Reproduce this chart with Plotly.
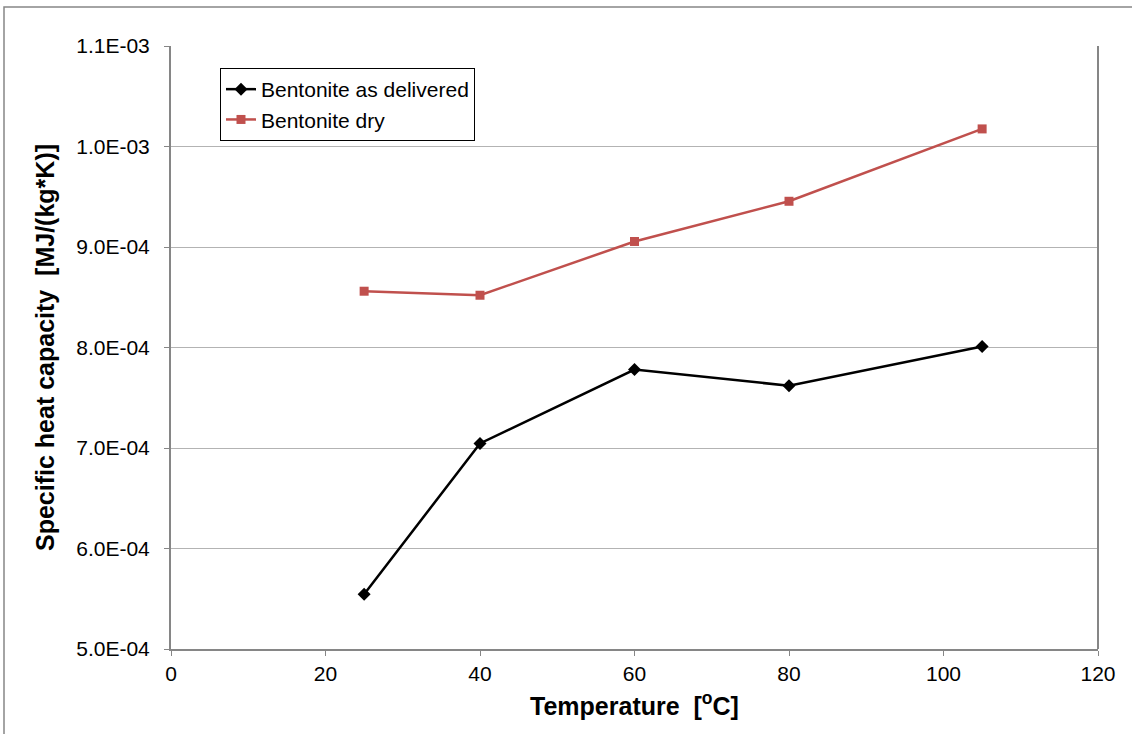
import plotly.graph_objects as go

temps = [25, 40, 60, 80, 105]
as_delivered = [5.545e-4, 7.045e-4, 7.78e-4, 7.62e-4, 8.01e-4]
dry = [8.56e-4, 8.52e-4, 9.055e-4, 9.455e-4, 1.0175e-3]

y_tickvals = [5.0e-4, 6.0e-4, 7.0e-4, 8.0e-4, 9.0e-4, 1.0e-3, 1.1e-3]
y_ticktext = ["5.0E-04", "6.0E-04", "7.0E-04", "8.0E-04", "9.0E-04", "1.0E-03", "1.1E-03"]
x_tickvals = [0, 20, 40, 60, 80, 100, 120]

W, H = 1132, 734
L, R, T, B = 171, 1098, 46, 649

fig = go.Figure()
fig.add_trace(go.Scatter(
    x=temps, y=as_delivered, name="Bentonite as delivered",
    mode="lines+markers",
    line=dict(color="black", width=2.5),
    marker=dict(symbol="diamond", size=10, color="black"),
))
fig.add_trace(go.Scatter(
    x=temps, y=dry, name="Bentonite dry",
    mode="lines+markers",
    line=dict(color="#c0504d", width=2.5),
    marker=dict(symbol="square", size=9, color="#c0504d"),
))

pw, ph = R - L, B - T
def px(xp):
    return (xp - L) / pw
def py(yp):
    return (B - yp) / ph

fig.update_layout(
    width=W, height=H,
    margin=dict(l=L, r=W - R, t=T, b=H - B),
    paper_bgcolor="white", plot_bgcolor="white",
    font=dict(family="Liberation Sans, Arial", size=21, color="black"),
    showlegend=True,
    legend=dict(
        x=px(220), y=py(68), xanchor="left", yanchor="top",
        bordercolor="black", borderwidth=1, bgcolor="white",
        font=dict(size=21), tracegroupgap=0, itemwidth=30,
    ),
    xaxis=dict(
        range=[0, 120], tickvals=x_tickvals,
        showgrid=False, zeroline=False,
        showline=True, linecolor="#868686", linewidth=2,
        ticks="outside", ticklen=5, tickcolor="#868686",
        tickfont=dict(size=21),
        title=dict(text="<b>Temperature  [<sup>o</sup>C]</b>", font=dict(size=25), standoff=13),
        mirror=False,
    ),
    yaxis=dict(
        range=[5.0e-4, 1.1e-3], tickvals=y_tickvals, ticktext=y_ticktext,
        showgrid=True, gridcolor="#b3b3b3", gridwidth=1, zeroline=False,
        showline=True, linecolor="#868686", linewidth=2,
        ticks="outside", ticklen=5, tickcolor="#868686",
        tickfont=dict(size=21), ticklabelstandoff=10,
        title=dict(text="<b>Specific heat capacity  [MJ/(kg*K)]</b>", font=dict(size=25), standoff=14),
    ),
    shapes=[
        dict(type="line", xref="paper", yref="paper", x0=1, x1=1, y0=0, y1=1,
             line=dict(color="#868686", width=2)),
        dict(type="rect", xref="paper", yref="paper",
             x0=px(4), x1=px(1145), y0=py(745), y1=py(7),
             line=dict(color="#868686", width=1.5), layer="below"),
    ],
)

fig.write_html(
    "out.html",
    config={"displayModeBar": False},
    post_script="document.body.style.margin='0';document.body.style.overflow='hidden';",
)
